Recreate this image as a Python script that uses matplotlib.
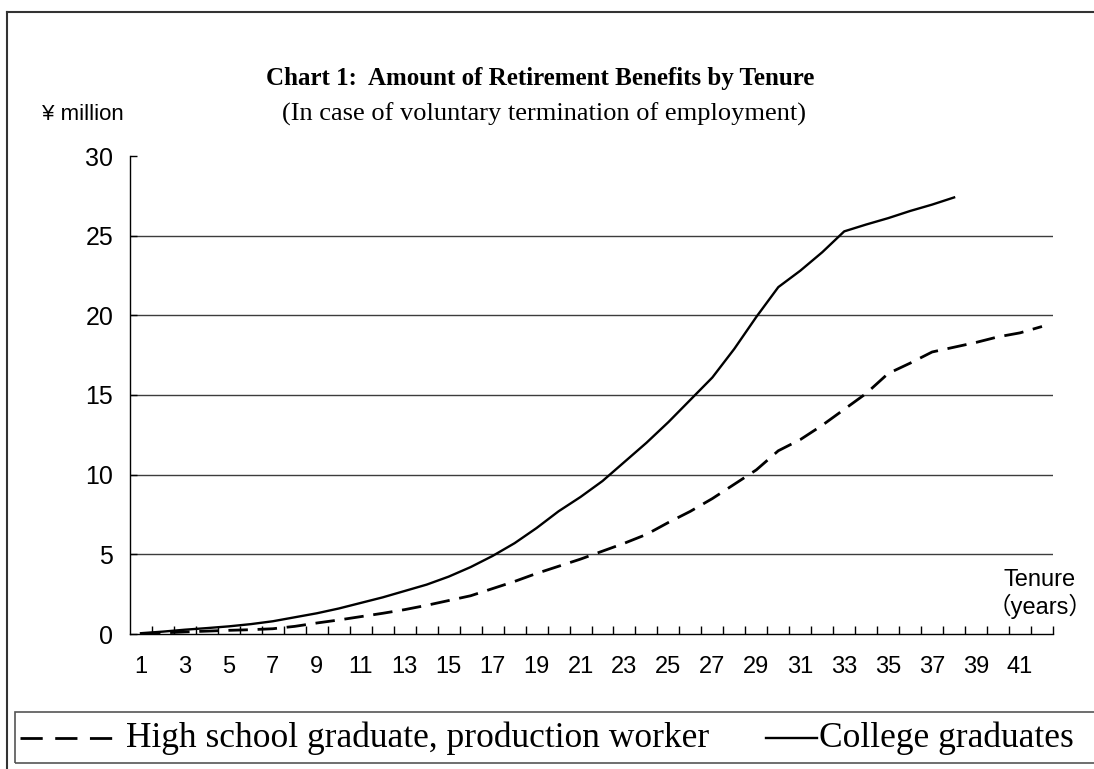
import matplotlib
matplotlib.use("Agg")
import matplotlib.pyplot as plt
from matplotlib.lines import Line2D
from matplotlib.patches import Rectangle
from matplotlib.ticker import FixedLocator, NullFormatter

# Tenure in years (categories 1..42)
tenure = list(range(1, 43))

# Retirement benefits, ¥ million
high_school = [0.02, 0.07, 0.13, 0.18, 0.23, 0.27, 0.33, 0.48, 0.69, 0.88,
               1.09, 1.30, 1.53, 1.80, 2.10, 2.40, 2.85, 3.30, 3.80, 4.25,
               4.70, 5.20, 5.70, 6.25, 7.00, 7.70, 8.50, 9.40, 10.30, 11.50,
               12.20, 13.10, 14.10, 15.10, 16.35, 17.00, 17.70, 18.00, 18.30, 18.65,
               18.90, 19.30]
college = [0.05, 0.15, 0.27, 0.37, 0.48, 0.62, 0.80, 1.05, 1.30, 1.60,
           1.95, 2.30, 2.70, 3.10, 3.60, 4.20, 4.90, 5.70, 6.65, 7.70,
           8.60, 9.60, 10.80, 12.00, 13.30, 14.70, 16.10, 17.90, 19.90, 21.77,
           22.80, 23.96, 25.27, 25.70, 26.10, 26.55, 26.95, 27.40]

tick_labels = [str(v) for v in range(1, 42, 2)]
series_names = ["High school graduate, production worker", "College graduates"]

serif = ["Liberation Serif", "Noto Sans CJK JP"]
sans = ["Liberation Sans", "Noto Sans CJK JP"]
dash = (0, (7, 3.5))

W, H = 1094, 769
fig = plt.figure(figsize=(W / 100, H / 100), dpi=100)
ax = fig.add_axes([130 / W, 1 - 634 / H, 923 / W, 478 / H])

ax.plot(tenure, high_school, color="black", lw=2.0, linestyle=dash)
ax.plot(tenure[:len(college)], college, color="black", lw=1.7)

ax.set_xlim(0.5, 42.5)
ax.set_ylim(0, 30)

# gridlines (no line at the top value)
for y in range(5, 30, 5):
    ax.axhline(y, color="#3c3c3c", lw=1.0, zorder=0)

for side in ("top", "right"):
    ax.spines[side].set_visible(False)
for side in ("left", "bottom"):
    ax.spines[side].set_color("black")
    ax.spines[side].set_linewidth(1.0)

ax.set_yticks(range(0, 31, 5))
ax.tick_params(axis="y", direction="in", length=5, width=1, labelsize=18, pad=12)
for lab in ax.get_yticklabels():
    lab.set_fontfamily(sans)

# ticks between categories, labels on odd categories
ax.xaxis.set_major_locator(FixedLocator([t + 0.5 for t in range(1, 43)]))
ax.xaxis.set_major_formatter(NullFormatter())
ax.xaxis.set_minor_locator(FixedLocator(list(range(1, 42, 2))))
ax.set_xticklabels(tick_labels, minor=True, fontfamily=sans, fontsize=17)
ax.tick_params(axis="x", which="major", direction="in", length=6, width=1)
ax.tick_params(axis="x", which="minor", length=0, pad=16)

fig.text(540 / W, 1 - 78 / H, "Chart 1:  Amount of Retirement Benefits by Tenure",
         ha="center", va="center", fontsize=18, fontweight="bold", family=serif)
fig.text(544 / W, 1 - 114 / H, "(In case of voluntary termination of employment)",
         ha="center", va="center", fontsize=19, family=serif)
fig.text(42 / W, 1 - 114 / H, "¥ million", ha="left", va="center",
         fontsize=16, family=sans)
fig.text(1040 / W, 1 - 594 / H, "Tenure\n（years）", ha="center", va="center",
         fontsize=17, family=sans, linespacing=1.15)

# outer frame (left and top edges)
fig.add_artist(Line2D([7 / W, 7 / W], [0, 1 - 12 / H], color="#333333", lw=1.5))
fig.add_artist(Line2D([7 / W, 1], [1 - 12 / H, 1 - 12 / H], color="#333333", lw=1.5))

# legend box along the bottom
fig.add_artist(Rectangle((15 / W, 1 - 763 / H), 1100 / W, 51 / H, transform=fig.transFigure,
                         fill=False, edgecolor="#555555", lw=1.2))
ly = 1 - 738 / H
fig.add_artist(Line2D([20 / W, 120 / W], [ly, ly], color="black", lw=2.0,
                      linestyle=(0, (8, 4.5))))
fig.text(126 / W, ly, series_names[0], ha="left", va="center", fontsize=25.5, family=serif)
fig.add_artist(Line2D([766 / W, 817 / W], [ly, ly], color="black", lw=1.7))
fig.text(819 / W, ly, series_names[1], ha="left", va="center", fontsize=25.5, family=serif)

fig.savefig("out.png", dpi=100)
